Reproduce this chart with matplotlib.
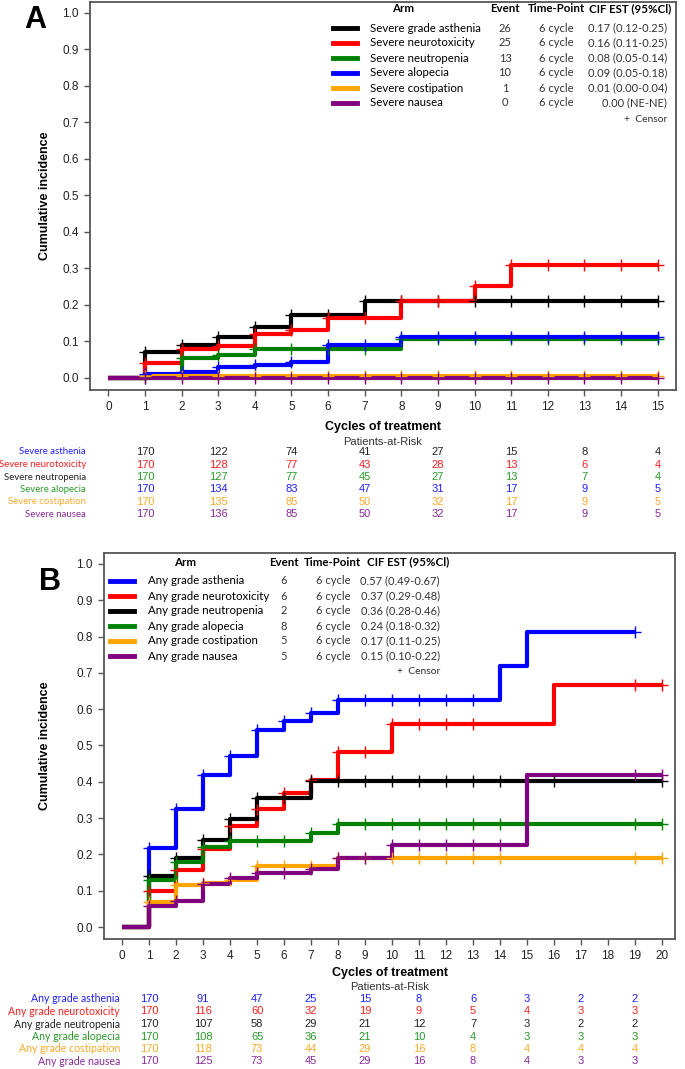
import numpy as np
import matplotlib
matplotlib.use("Agg")
import matplotlib.pyplot as plt
from matplotlib.transforms import blended_transform_factory

# ---- datos panel A (toxicidad severa) ----
arms_a = ["Severe grade asthenia", "Severe neurotoxicity", "Severe neutropenia",
          "Severe alopecia", "Severe costipation", "Severe nausea"]
events_a = ["26", "25", "13", "10", "1", "0"]
cif_a = ["0.17 (0.12-0.25)", "0.16 (0.11-0.25)", "0.08 (0.05-0.14)",
         "0.09 (0.05-0.18)", "0.01 (0.00-0.04)", "0.00 (NE-NE)"]
times_a = [[0, 1, 2, 3, 4, 5, 7],
           [0, 1, 2, 3, 4, 5, 6, 8, 10, 11],
           [0, 2, 3, 4, 8],
           [0, 1, 2, 3, 4, 5, 6, 8],
           [0, 1],
           [0]]
cif_vals_a = [[0, 0.072, 0.09, 0.113, 0.14, 0.173, 0.212],
              [0, 0.042, 0.079, 0.088, 0.12, 0.131, 0.164, 0.212, 0.252, 0.31],
              [0, 0.056, 0.063, 0.079, 0.106],
              [0, 0.012, 0.016, 0.029, 0.035, 0.045, 0.09, 0.111],
              [0, 0.006],
              [0]]
end_a = [15, 15, 15, 15, 15, 15]
censor_a = [list(range(1, 16))] * 6

risk_labels_a = ["Severe asthenia", "Severe neurotoxicity", "Severe neutropenia",
                 "Severe alopecia", "Severe costipation", "Severe nausea"]
risk_times_a = [1, 3, 5, 7, 9, 11, 13, 15]
risk_a = [[170, 122, 74, 41, 27, 15, 8, 4],
          [170, 128, 77, 43, 28, 13, 6, 4],
          [170, 127, 77, 45, 27, 13, 7, 4],
          [170, 134, 83, 47, 31, 17, 9, 5],
          [170, 135, 85, 50, 32, 17, 9, 5],
          [170, 136, 85, 50, 32, 17, 9, 5]]

# ---- datos panel B (cualquier grado) ----
arms_b = ["Any grade asthenia", "Any grade neurotoxicity", "Any grade neutropenia",
          "Any grade alopecia", "Any grade costipation", "Any grade nausea"]
events_b = ["6", "6", "2", "8", "5", "5"]
cif_b = ["0.57 (0.49-0.67)", "0.37 (0.29-0.48)", "0.36 (0.28-0.46)",
         "0.24 (0.18-0.32)", "0.17 (0.11-0.25)", "0.15 (0.10-0.22)"]
times_b = [[0, 1, 2, 3, 4, 5, 6, 7, 8, 14, 15],
           [0, 1, 2, 3, 4, 5, 6, 7, 8, 10, 16],
           [0, 1, 2, 3, 4, 5, 7],
           [0, 1, 2, 3, 4, 7, 8],
           [0, 1, 2, 3, 4, 5, 8],
           [0, 1, 2, 3, 4, 5, 7, 8, 10, 15]]
cif_vals_b = [[0, 0.217, 0.325, 0.42, 0.472, 0.543, 0.568, 0.589, 0.625, 0.72, 0.812],
              [0, 0.099, 0.157, 0.215, 0.278, 0.324, 0.368, 0.405, 0.483, 0.558, 0.667],
              [0, 0.141, 0.191, 0.24, 0.298, 0.356, 0.402],
              [0, 0.13, 0.18, 0.221, 0.238, 0.26, 0.284],
              [0, 0.068, 0.116, 0.12, 0.129, 0.169, 0.191],
              [0, 0.059, 0.072, 0.118, 0.136, 0.148, 0.16, 0.189, 0.226, 0.419]]
end_b = [19, 20, 20, 20, 20, 20]
censor_b = [list(range(1, 14)) + [19],
            list(range(1, 14)) + [19, 20],
            list(range(1, 15)) + [16, 20],
            list(range(1, 15)) + [19, 20],
            list(range(1, 15)) + [19, 20],
            list(range(1, 15)) + [19, 20]]

risk_labels_b = arms_b
risk_times_b = [1, 3, 5, 7, 9, 11, 13, 15, 17, 19]
risk_b = [[170, 91, 47, 25, 15, 8, 6, 3, 2, 2],
          [170, 116, 60, 32, 19, 9, 5, 4, 3, 3],
          [170, 107, 58, 29, 21, 12, 7, 3, 2, 2],
          [170, 108, 65, 36, 21, 10, 4, 3, 3, 3],
          [170, 118, 73, 44, 29, 16, 8, 4, 4, 4],
          [170, 125, 73, 45, 29, 16, 8, 4, 3, 3]]

# colores
BLK, RED, GRN, BLU, ORA, PUR = "#000000", "#ff0000", "#008000", "#0000ff", "#ffa500", "#800080"
tBLK, tRED, tGRN, tBLU, tORA, tPUR = "#222222", "#ff2020", "#2a9a2a", "#2020ff", "#ffaa2a", "#8a2a9a"
cols_a = [BLK, RED, GRN, BLU, ORA, PUR]
cols_b = [BLU, RED, BLK, GRN, ORA, PUR]
lab_cols_a = [tBLU, tRED, tBLK, tGRN, tORA, tPUR]
num_cols_a = [tBLK, tRED, tGRN, tBLU, tORA, tPUR]
txt_cols_b = [tBLU, tRED, tBLK, tGRN, tORA, tPUR]

W, H = 685, 1069
fig = plt.figure(figsize=(W / 100, H / 100), dpi=100)

def fx(x):
    return x / W

def fy(y):
    return 1 - y / H

TICKF = "Liberation Sans"
LEGF = ["Lato", "DejaVu Sans"]
SPC = "#555555"


def curvas(ax, times, vals, ends, censors, cols):
    for t, v, e, c, col in zip(times, vals, ends, censors, cols):
        tt = list(t) + [e]
        vv = list(v) + [v[-1]]
        ax.step(tt, vv, where="post", color=col, lw=3, solid_capstyle="butt", zorder=3)
        cx = [x for x in c if x <= e]
        cy = [v[np.searchsorted(t, x, side="right") - 1] for x in cx]
        ax.plot(cx, cy, ls="none", marker="+", ms=8, mew=1.0, color=col, zorder=4)


def ejes(ax, xmax):
    ax.set_ylim(-0.033, 1.03)
    ax.set_yticks(np.arange(0, 1.01, 0.1))
    ax.set_yticklabels(["%.1f" % y for y in np.arange(0, 1.01, 0.1)])
    ax.set_xticks(range(0, xmax + 1))
    for s in ax.spines.values():
        s.set_color(SPC)
        s.set_linewidth(1.3)
    ax.tick_params(direction="out", length=4, width=1, color=SPC, labelsize=8.5, pad=4)
    for lab in ax.get_xticklabels() + ax.get_yticklabels():
        lab.set_fontfamily(TICKF)
        lab.set_color("#222222")


def leyenda(cols, arms, events, cifs, xs, ys):
    lx0, lx1, labx, armx, evx, tpx, cifx, cifr = xs
    hy, rows, cy = ys
    tr = fig.transFigure
    for x, s in [(armx, "Arm"), (evx, "Event"), (tpx, "Time-Point"), (cifx, "CIF EST (95%Cl)")]:
        fig.text(fx(x), fy(hy), s, ha="center", va="center", fontsize=8.3,
                 fontweight="bold", family=LEGF)
    for i in range(6):
        y = rows[i]
        fig.add_artist(plt.Line2D([fx(lx0), fx(lx1)], [fy(y), fy(y)], color=cols[i],
                                  lw=3.5, transform=tr))
        fig.text(fx(labx), fy(y), arms[i], ha="left", va="center", fontsize=8.3, family=LEGF)
        fig.text(fx(evx), fy(y), events[i], ha="center", va="center", fontsize=8,
                 family=LEGF, color="#333333")
        fig.text(fx(tpx), fy(y), "6 cycle", ha="center", va="center", fontsize=8,
                 family=LEGF, color="#333333")
        fig.text(fx(cifr), fy(y), cifs[i], ha="right", va="center", fontsize=8,
                 family=LEGF, color="#333333")
    fig.text(fx(cifr), fy(cy), "+  Censor", ha="right", va="center", fontsize=7.5,
             family=LEGF, color="#333333")


def riesgo(ax, labels, times, risk, lab_cols, num_cols, labx, rows, fs):
    tr = blended_transform_factory(ax.transData, fig.transFigure)
    for i in range(len(labels)):
        fig.text(fx(labx), fy(rows[i]), labels[i], ha="right", va="center",
                 fontsize=fs, family=LEGF, color=lab_cols[i])
        for t, n in zip(times, risk[i]):
            ax.text(t, fy(rows[i]), str(n), transform=tr, ha="center", va="center",
                    fontsize=8, family=TICKF, color=num_cols[i], clip_on=False)


# ---------------- Panel A ----------------
axA = fig.add_axes([fx(90), fy(390), fx(676 - 90), (390 - 2) / H])
curvas(axA, times_a, cif_vals_a, end_a, censor_a, cols_a)
axA.set_xlim(-0.5, 15.5)
ejes(axA, 15)
fig.text(fx(45), fy(196), "Cumulative incidence", rotation=90, ha="center", va="center",
         fontsize=9, fontweight="bold", family=TICKF)
fig.text(fx(35), fy(20), "A", ha="center", va="center", fontsize=22, fontweight="bold",
         family=TICKF)
fig.text(fx(383), fy(427), "Cycles of treatment", ha="center", va="center", fontsize=9,
         fontweight="bold", family=["Liberation Sans Narrow", TICKF])
fig.text(fx(383), fy(442), "Patients-at-Risk", ha="center", va="center", fontsize=8,
         family=TICKF, color="#333333")
leyenda(cols_a, arms_a, events_a, cif_a,
        (333, 357, 370, 403, 505, 556, 630, 667),
        (9, [28, 43, 58, 73, 88, 103], 119))
riesgo(axA, risk_labels_a, risk_times_a, risk_a, lab_cols_a, num_cols_a, 86,
       [452, 464.5, 477, 489.5, 502, 514.5], 6.9)

# ---------------- Panel B ----------------
axB = fig.add_axes([fx(104), fy(939), fx(675 - 104), (939 - 553) / H])
curvas(axB, times_b, cif_vals_b, end_b, censor_b, cols_b)
axB.set_xlim(-0.67, 20.48)
ejes(axB, 20)
fig.text(fx(45), fy(746), "Cumulative incidence", rotation=90, ha="center", va="center",
         fontsize=9, fontweight="bold", family=TICKF)
fig.text(fx(50), fy(582), "B", ha="center", va="center", fontsize=22, fontweight="bold",
         family=TICKF)
fig.text(fx(390), fy(973), "Cycles of treatment", ha="center", va="center", fontsize=9,
         fontweight="bold", family=["Liberation Sans Narrow", TICKF])
fig.text(fx(390), fy(987), "Patients-at-Risk", ha="center", va="center", fontsize=8,
         family=TICKF, color="#333333")
leyenda(cols_b, arms_b, events_b, cif_b,
        (110, 134, 148, 185, 284, 333, 408, 440),
        (562, [581, 596, 611, 626, 641, 656], 671))
riesgo(axB, risk_labels_b, risk_times_b, risk_b, txt_cols_b, txt_cols_b, 120,
       [999, 1011.5, 1024, 1036.5, 1049, 1061.5], 7.6)

fig.savefig("out.png", dpi=100)
